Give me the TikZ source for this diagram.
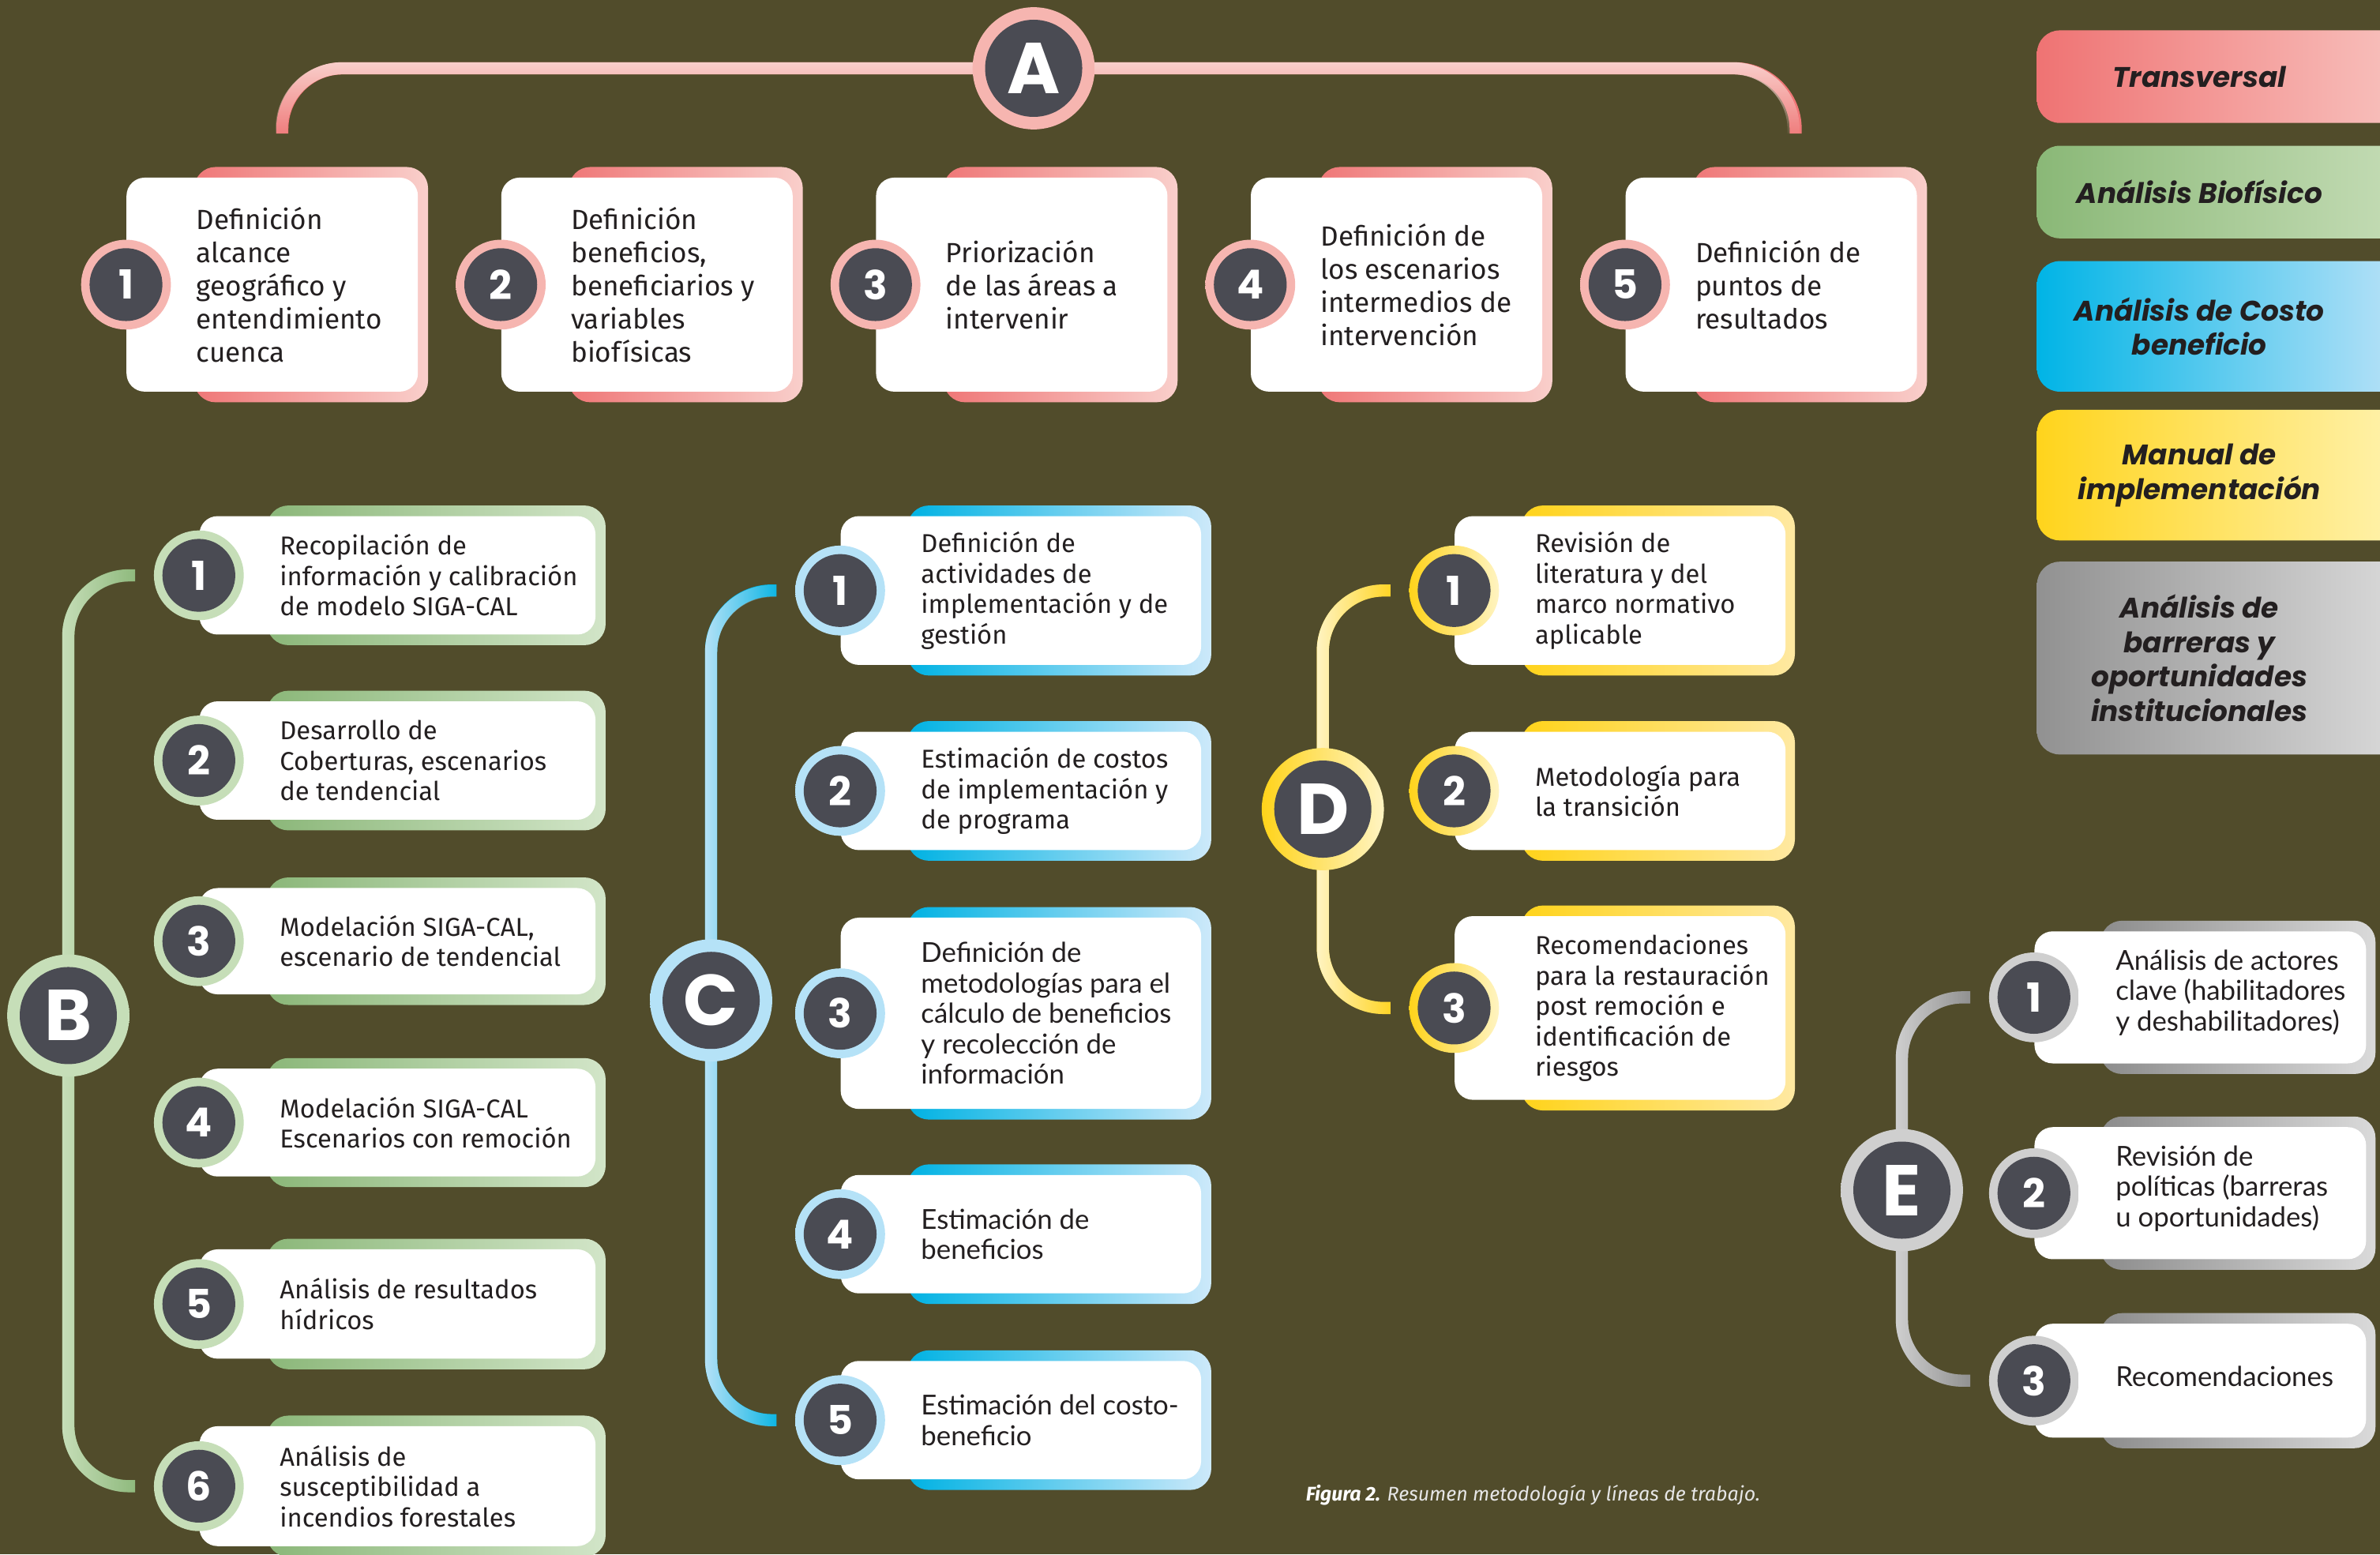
\documentclass[tikz,border=0pt]{standalone}
\usepackage{fontspec}
\setmainfont{Fira Sans}
\newfontfamily\latof{Lato}
\newfontfamily\popf{Poppins}
\usetikzlibrary{calc,fadings}

\definecolor{bgolive}{HTML}{514C2B}
\definecolor{coregrey}{HTML}{4A4B53}
\definecolor{ink}{HTML}{231F20}
\definecolor{capgrey}{HTML}{E6E6E6}
% one set per line of work
\definecolor{aSat}{HTML}{EF7777}\definecolor{aPale}{HTML}{F9CFCB}\definecolor{aRing}{HTML}{F6B5B0}
\definecolor{bSat}{HTML}{8BB779}\definecolor{bPale}{HTML}{D2E5C8}\definecolor{bRing}{HTML}{C6DEB8}
\definecolor{cSat}{HTML}{00B2E3}\definecolor{cPale}{HTML}{CDE9FA}\definecolor{cRing}{HTML}{B5E2F7}
\definecolor{dSat}{HTML}{FFD31A}\definecolor{dPale}{HTML}{FFE9A2}\definecolor{dRing}{HTML}{FFF4C2}
\definecolor{eSat}{HTML}{8C8C8C}\definecolor{ePale}{HTML}{DADADA}\definecolor{eRing}{HTML}{CFCFCF}
% legend
\definecolor{l1L}{HTML}{EF7373}\definecolor{l1R}{HTML}{F8C3BF}
\definecolor{l2L}{HTML}{8AB877}\definecolor{l2R}{HTML}{C6DDB7}
\definecolor{l3L}{HTML}{00B4E6}\definecolor{l3R}{HTML}{BEE3F8}
\definecolor{l4L}{HTML}{FFD41C}\definecolor{l4R}{HTML}{FFF3B2}
\definecolor{l5L}{HTML}{919191}\definecolor{l5R}{HTML}{DCDCDC}

\pgfdeclarelayer{bg}
\pgfdeclarelayer{lines}
\pgfsetlayers{bg,lines,main}

\begin{document}
\begin{tikzpicture}[x=0.02cm, y=-0.02cm,
    card/.style={fill=white, rounded corners=0.24cm, anchor=west, inner sep=0pt},
    ring/.style 2 args={circle, inner sep=0pt, minimum size=1.184cm, left color=#1, right color=#2},
    numcore/.style={circle, inner sep=0pt, minimum size=0.96cm, fill=coregrey, text=white,
        font=\popf\bfseries\fontsize{15}{15}\selectfont},
    bigring/.style 2 args={circle, inner sep=0pt, minimum size=1.61cm, left color=#1, right color=#2},
    bigcore/.style={circle, inner sep=0pt, minimum size=1.28cm, fill=coregrey, text=white,
        font=\popf\bfseries\fontsize{27}{27}\selectfont},
    txt/.style={anchor=west, align=left, inner sep=0pt, text=ink, font=\fontsize{9.7}{11.4}\selectfont},
    txta/.style={txt, font=\fontsize{10.4}{12.4}\selectfont},
    txtl/.style={txt, font=\latof\fontsize{10.3}{11.4}\selectfont},
    tie/.style={line width=0.16cm, rounded corners=0.8cm},
    legtxt/.style={align=center, inner sep=0pt, text=ink,
        font=\popf\bfseries\itshape\fontsize{10.6}{13}\selectfont}
  ]

  \useasboundingbox (0,0) rectangle (1568,1024);
  \begin{pgfonlayer}{bg}
    \fill[bgolive] (0,0) rectangle (1568,1024);
  \end{pgfonlayer}
  \clip (0,0) rectangle (1568,1024);

  % A
  \node[bigring={aRing}{aRing}] (A) at (681,45) {};
  \node[bigcore] (Ak) at (A) {A};
  \foreach \i/\t in {1/{Definición\\alcance\\geográfico y\\entendimiento\\cuenca},
                     2/{Definición\\beneficios,\\beneficiarios y\\variables\\biofísicas},
                     3/{Priorización\\de las áreas a\\intervenir},
                     4/{Definición de\\los escenarios\\intermedios de\\intervención},
                     5/{Definición de\\puntos de\\resultados}}
  {
    \pgfmathsetmacro\x{83+246.9*(\i-1)}
    \shade[left color=aSat, right color=aPale, rounded corners=0.28cm] (\x+45,110) rectangle (\x+199,265);
    \node[card, minimum width=3.84cm, minimum height=2.82cm] (ca\i) at (\x,187.5) {};
    \node[ring={aRing}{aRing}] (na\i) at (ca\i.west) {};
    \node[numcore] (ka\i) at (na\i) {\i};
    \node[txta] (ta\i) at ([xshift=0.92cm]ca\i.west) {\t};
  }

  % B
  \node[bigring={bRing}{bRing}] (B) at (45,669) {};
  \node[bigcore] (Bk) at (B) {B};
  \foreach \i/\y/\h/\t in {1/379/78/{Recopilación de\\información y calibración\\de modelo SIGA-CAL},
                           2/501/78/{Desarrollo de\\Coberturas, escenarios\\de tendencial},
                           3/620/70/{Modelación SIGA-CAL,\\escenario de tendencial},
                           4/739.5/71/{Modelación SIGA-CAL\\Escenarios con remoción},
                           5/859/72/{Análisis de resultados\\hídricos},
                           6/979/79/{Análisis de\\susceptibilidad a\\incendios forestales}}
  {
    \shade[left color=bSat, right color=bPale, rounded corners=0.28cm] (176,\y-\h/2-7) rectangle (399,\y+\h/2+7);
    \node[card, minimum width=5.22cm, minimum height=\h*0.02cm] (cb\i) at (131,\y) {};
    \node[ring={bRing}{bRing}] (nb\i) at (cb\i.west) {};
    \node[numcore] (kb\i) at (nb\i) {\i};
    \node[txt] (tb\i) at ([xshift=1.06cm]cb\i.west) {\t};
  }

  % C
  \node[bigring={cRing}{cRing}] (C) at (468.5,659) {};
  \node[bigcore] (Ck) at (C) {C};
  \foreach \i/\y/\h/\t in {1/389/98/{Definición de\\actividades de\\implementación y de\\gestión},
                           2/521/78/{Estimación de costos\\de implementación y\\de programa},
                           3/667.5/126/{Definición de\\metodologías para el\\cálculo de beneficios\\y recolección de\\información},
                           4/813/78/{Estimación de\\beneficios},
                           5/935.5/78/{Estimación del costo-\\beneficio}}
  {
    \shade[left color=cSat, right color=cPale, rounded corners=0.28cm] (598,\y-\h/2-7) rectangle (798,\y+\h/2+7);
    \node[card, minimum width=4.75cm, minimum height=\h*0.02cm] (cc\i) at (553.5,\y) {};
    \node[ring={cRing}{cRing}] (nc\i) at (cc\i.west) {};
    \node[numcore] (kc\i) at (nc\i) {\i};
    \ifnum\i<3
      \node[txt] (tc\i) at ([xshift=1.06cm]cc\i.west) {\t};
    \else
      \node[txtl] (tc\i) at ([xshift=1.06cm]cc\i.west) {\t};
    \fi
  }

  % D
  \node[bigring={dSat}{dRing}] (D) at (871.5,533) {};
  \node[bigcore] (Dk) at (D) {D};
  \foreach \i/\y/\h/\t in {1/389/98/{Revisión de\\literatura y del\\marco normativo\\aplicable},
                           2/521/78/{Metodología para\\la transición},
                           3/664/121/{Recomendaciones\\para la restauración\\post remoción e\\identificación de\\riesgos}}
  {
    \shade[left color=dSat, right color=dPale, rounded corners=0.28cm] (1002.5,\y-\h/2-7) rectangle (1182.5,\y+\h/2+7);
    \node[card, minimum width=4.36cm, minimum height=\h*0.02cm] (cd\i) at (958,\y) {};
    \node[ring={dSat}{dRing}] (nd\i) at (cd\i.west) {};
    \node[numcore] (kd\i) at (nd\i) {\i};
    \node[txt] (td\i) at ([xshift=1.06cm]cd\i.west) {\t};
  }

  % E
  \node[bigring={eRing}{eRing}] (E) at (1253,784) {};
  \node[bigcore] (Ek) at (E) {E};
  \foreach \i/\y/\h/\t in {1/657/87/{Análisis de actores\\clave (habilitadores\\y deshabilitadores)},
                           2/786/87/{Revisión de\\políticas (barreras\\u oportunidades)},
                           3/909.5/75/{Recomendaciones}}
  {
    \shade[left color=eSat, right color=ePale, rounded corners=0.28cm] (1384,\y-\h/2-7) rectangle (1565,\y+\h/2+7);
    \node[card, minimum width=4.37cm, minimum height=\h*0.02cm] (ce\i) at (1340,\y) {};
    \node[ring={eRing}{eRing}] (ne\i) at (ce\i.west) {};
    \node[numcore] (ke\i) at (ne\i) {\i};
    \node[txtl] (te\i) at ([xshift=1.07cm, yshift=0.06cm]ce\i.west) {\t};
  }

  % brackets
  \coordinate (al) at (186,88);
  \coordinate (ar) at (1183,88);
  \begin{pgfonlayer}{lines}
    \draw[tie, aSat] (al) |- (A.center) -| (ar);
    \draw[tie, aPale, path fading=south] (al) |- (A.center) -| (ar);
    \draw[tie, bSat] ($(nb1.west)+(-12,0)$) -| (B.center) |- ($(nb6.west)+(-12,0)$);
    \draw[tie, bRing, path fading=east] ($(nb1.west)+(-12,0)$) -| (B.center) |- ($(nb6.west)+(-12,0)$);
    \draw[tie, cSat] ($(nc1.west)+(-12,0)$) -| (C.center) |- ($(nc5.west)+(-12,0)$);
    \draw[tie, cRing, path fading=east] ($(nc1.west)+(-12,0)$) -| (C.center) |- ($(nc5.west)+(-12,0)$);
    \draw[tie, dSat] ($(nd1.west)+(-12,0)$) -| (D.center) |- ($(nd3.west)+(-12,0)$);
    \draw[tie, dRing, path fading=east] ($(nd1.west)+(-12,0)$) -| (D.center) |- ($(nd3.west)+(-12,0)$);
    \draw[tie, eSat] ($(ne1.west)+(-12,0)$) -| (E.center) |- ($(ne3.west)+(-12,0)$);
    \draw[tie, eRing, path fading=east] ($(ne1.west)+(-12,0)$) -| (E.center) |- ($(ne3.west)+(-12,0)$);
  \end{pgfonlayer}

  % legend
  \foreach \i/\y/\h/\t in {1/20/61/{Transversal},
                           2/96/61/{Análisis Biofísico},
                           3/172/86/{Análisis de Costo\\beneficio},
                           4/270/86/{Manual de\\implementación},
                           5/370/127/{Análisis de\\barreras y\\oportunidades\\institucionales}}
  {
    \shade[left color=l\i L, right color=l\i R, rounded corners=0.3cm] (1342,\y) rectangle (1590,\y+\h);
    \node[legtxt] (lg\i) at (1449,\y+\h/2) {\t};
  }

  \node[anchor=west, inner sep=0pt, text=white, font=\itshape\fontsize{7.4}{8.5}\selectfont] (cap) at (860,985)
    {\textbf{Figura 2.} \textcolor{capgrey}{Resumen metodología y líneas de trabajo.}};

\end{tikzpicture}
\end{document}
